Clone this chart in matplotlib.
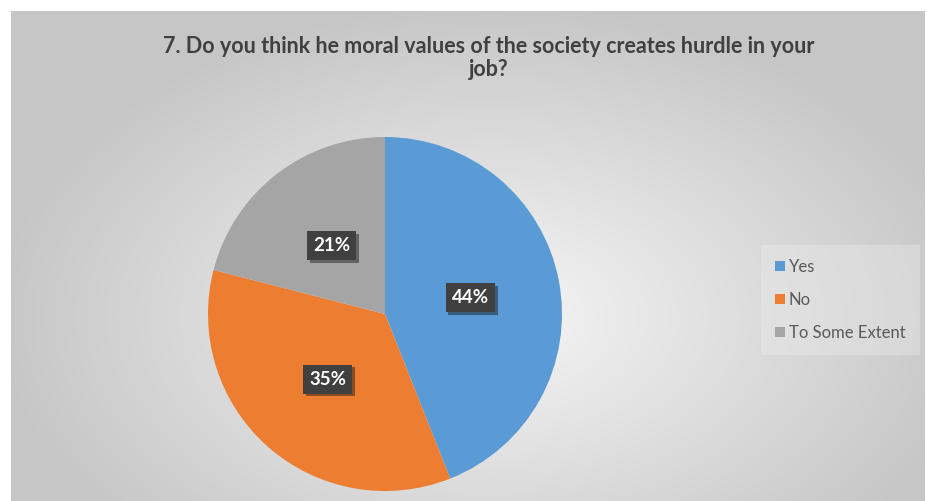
import numpy as np
import matplotlib
matplotlib.use("Agg")
import matplotlib.pyplot as plt
from matplotlib.patches import Patch
from matplotlib import patheffects as pe

categories = ["Yes", "No", "To Some Extent"]
values = [44, 35, 21]
colors = ["#5B9BD5", "#ED7D31", "#A5A5A5"]
title = "7. Do you think he moral values of the society creates hurdle in your\njob?"

W, H = 928, 501
fig = plt.figure(figsize=(W / 100, H / 100), dpi=100)
fig.patch.set_facecolor("white")

# background gradient panel
bg = fig.add_axes([11 / W, 0, (925 - 11) / W, (501 - 11) / H])
bg.set_axis_off()
nx, ny = 400, 220
xx, yy = np.meshgrid(np.linspace(-1, 1, nx), np.linspace(-1, 1, ny))
cx, cy = 0.05, 0.25
r = np.sqrt(((xx - cx) / 1.1) ** 2 + ((yy - cy) / 1.3) ** 2)
val = 0.965 - 0.19 * np.clip(r, 0, 1.3) / 1.0
val = np.clip(val, 0.78, 1)
img = np.dstack([val, val, val])
bg.imshow(img, aspect="auto", extent=[0, 1, 0, 1], origin="upper", interpolation="bilinear")
bg.set_xlim(0, 1)
bg.set_ylim(0, 1)

# title
fig.text(489 / W, 1 - 58 / H, title, ha="center", va="center", fontsize=15.5,
         fontweight="bold", color="#404040", family=["Lato", "DejaVu Sans"],
         linespacing=1.15)

# pie
cxp, cyp, R = 385, 501 - 314, 177
ax = fig.add_axes([(cxp - R) / W, (cyp - R) / H, 2 * R / W, 2 * R / H])
ax.set_axis_off()
wedges, texts, autotexts = ax.pie(values, colors=colors, startangle=90, counterclock=False,
                                  autopct="%1.0f%%", pctdistance=0.49,
                                  wedgeprops=dict(linewidth=0),
                                  textprops=dict(color="white", fontsize=13.5, fontweight="bold",
                                                 family=["Lato", "DejaVu Sans"]))
ax.set_xlim(-1, 1)
ax.set_ylim(-1, 1)
for t in autotexts:
    t.set_bbox(dict(boxstyle="square,pad=0.32", facecolor="#404040", edgecolor="none"))
    t.get_bbox_patch().set_path_effects([pe.SimplePatchShadow(offset=(2, -2), alpha=0.45), pe.Normal()])

# legend
handles = [Patch(facecolor=c, edgecolor="none") for c in colors]
leg = fig.legend(handles, categories, loc="center left",
                 bbox_to_anchor=(758 / W, 1 - 300 / H), frameon=True,
                 labelcolor="#595959", handlelength=0.55, handleheight=0.55,
                 handletextpad=0.25, labelspacing=1.0, borderpad=0.55,
                 prop=dict(family=["Lato", "DejaVu Sans"], size=12))
leg.get_frame().set_facecolor("#eeeeee")
leg.get_frame().set_alpha(0.35)
leg.get_frame().set_edgecolor("none")
leg.get_frame().set_boxstyle("square")

fig.savefig("out.png", dpi=100)
